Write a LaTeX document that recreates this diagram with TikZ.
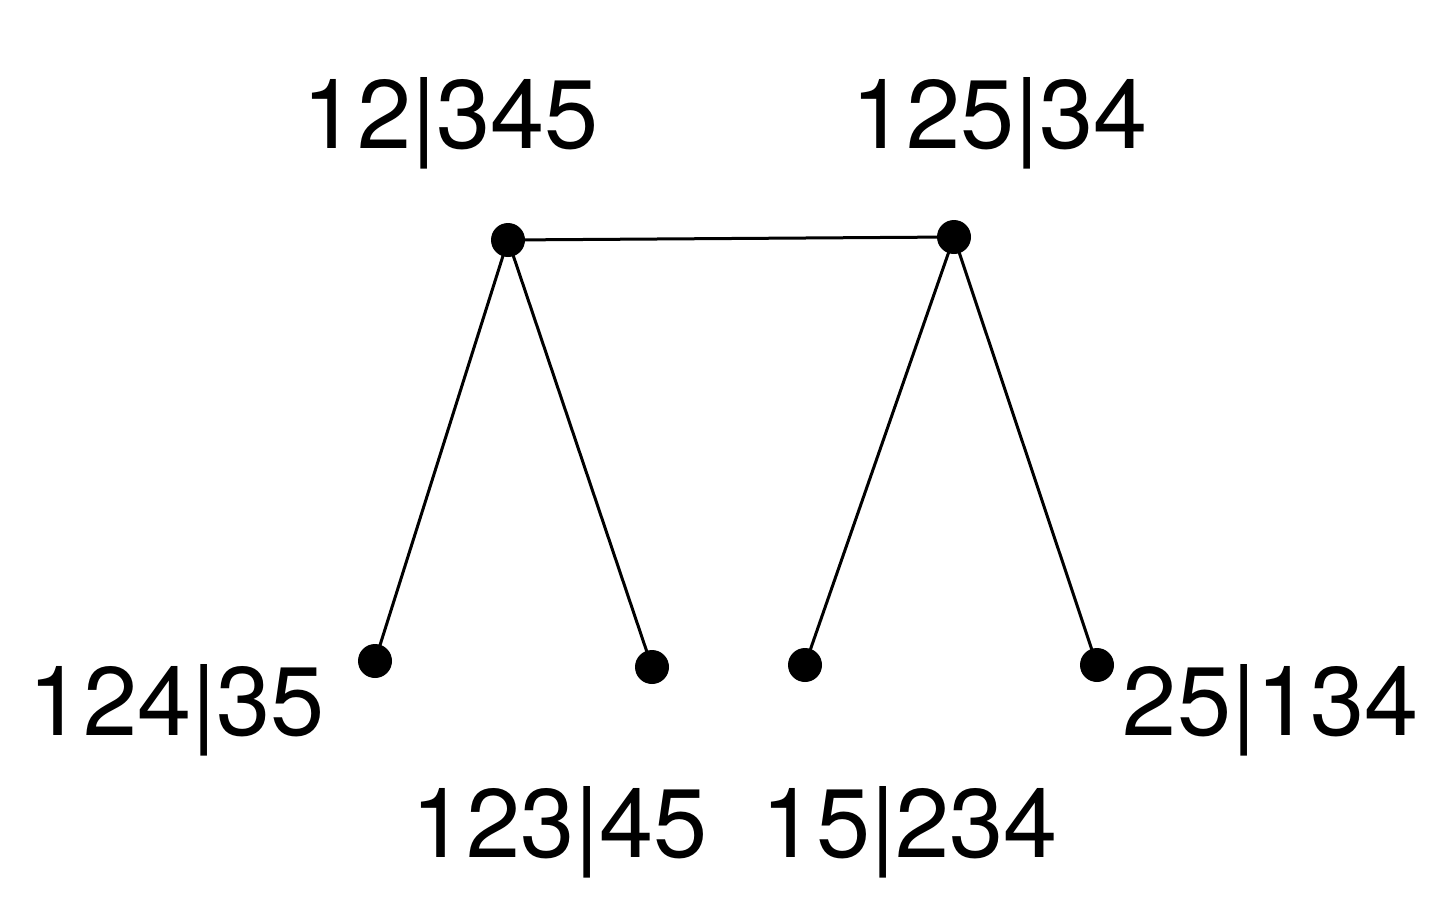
\documentclass[tikz,border=0pt]{standalone}
\usepackage{fontspec}
\setmainfont{TeX Gyre Heros}
\usetikzlibrary{backgrounds}
\begin{document}
\begin{tikzpicture}[x=0.5pt,y=-0.5pt,
  dot/.style={circle,fill=black,inner sep=0pt,minimum size=17pt},
  lab/.style={anchor=base,inner sep=0pt,font=\fontsize{48.7}{52}\selectfont},
  edge/.style={line width=1.5pt}]
\useasboundingbox (0,0) rectangle (1453,900);
\node[dot] (A) at (508,240) {};
\node[dot] (B) at (954,237) {};
\node[dot] (C) at (375,661) {};
\node[dot] (D) at (652,667) {};
\node[dot] (E) at (805,665) {};
\node[dot] (F) at (1097,665) {};
\begin{scope}[on background layer]
\draw[edge] (A.center) -- (B.center);
\draw[edge] (A.center) -- (C.center);
\draw[edge] (A.center) -- (D.center);
\draw[edge] (B.center) -- (E.center);
\draw[edge] (B.center) -- (F.center);
\end{scope}
\node[lab] (lA) at (451,148) {12|345};
\node[lab] (lB) at (1000,148) {125|34};
\node[lab] (lC) at (177,735) {124|35};
\node[lab] (lD) at (560,857) {123|45};
\node[lab] (lE) at (910,857) {15|234};
\node[lab] (lF) at (1271,735) {25|134};
\end{tikzpicture}
\end{document}
